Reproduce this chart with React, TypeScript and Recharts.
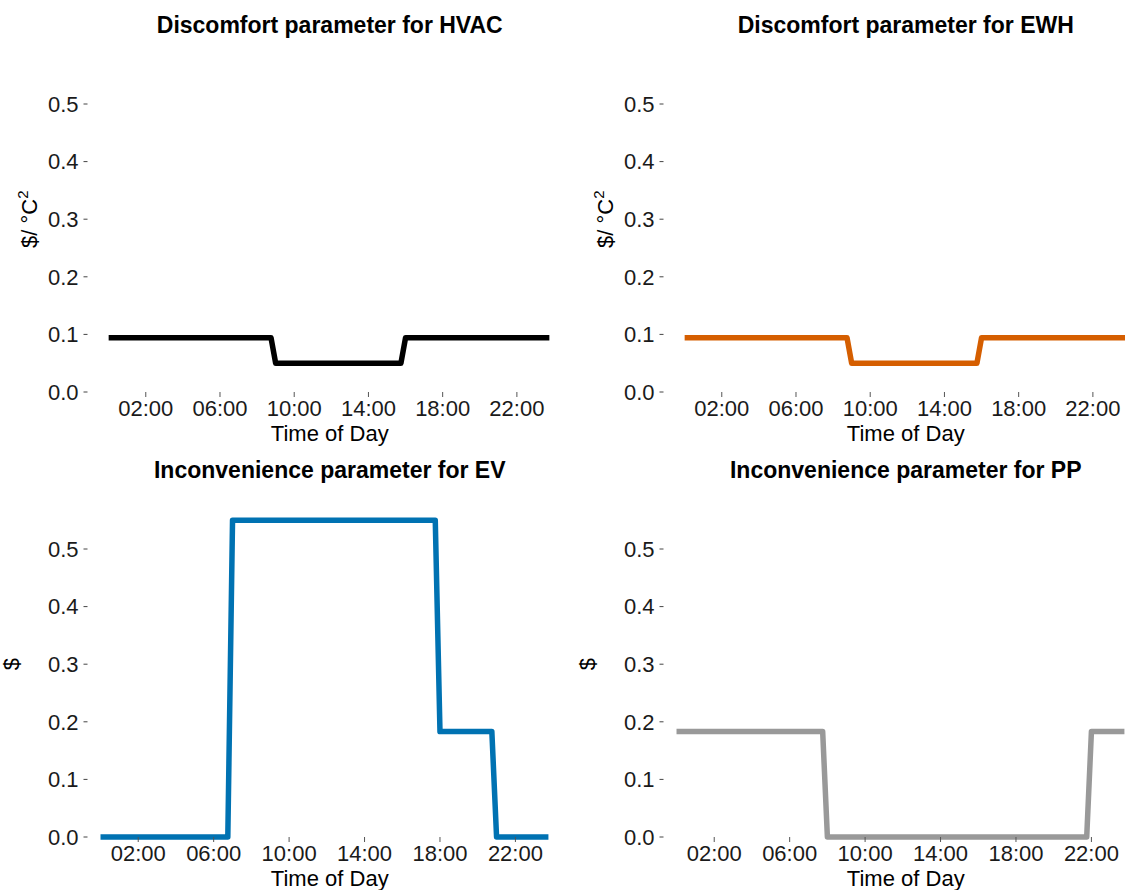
import { LineChart, Line, XAxis, YAxis, Label } from "recharts"

// hour-of-day breakpoints and parameter values for each load type
const hourTicks = [2, 6, 10, 14, 18, 22]
const valueTicks = [0, 0.1, 0.2, 0.3, 0.4, 0.5]

const hvacHours = [0, 8.75, 9, 15.75, 16, 23.75]
const hvacValues = [0.094, 0.094, 0.05, 0.05, 0.094, 0.094]

const ewhHours = [0, 8.75, 9, 15.75, 16, 23.75]
const ewhValues = [0.094, 0.094, 0.05, 0.05, 0.094, 0.094]

const evHours = [0, 6.75, 7, 17.75, 18, 20.75, 21, 23.75]
const evValues = [0, 0, 0.55, 0.55, 0.183, 0.183, 0, 0]

const ppHours = [0, 7.75, 8, 21.75, 22, 23.75]
const ppValues = [0.183, 0.183, 0, 0, 0.183, 0.183]

const FONT = '"Liberation Sans", Arial, Helvetica, sans-serif'
const PANEL_W = 576
const PANEL_H = 445
// extra room below each chart so descenders of the axis title are not clipped
const SPILL = 8
const MARGIN = { top: 46.4, right: 4, bottom: 0, left: 0 }
const Y_AXIS_W = 87.5
const X_AXIS_H = 53 + SPILL

const toRows = (hours: number[], values: number[]) =>
  hours.map((h, i) => ({ h, v: values[i] }))

const fmtHour = (h: number) => `${String(h).padStart(2, "0")}:00`

const tempTitle = (props: any) => {
  const vb = props.viewBox ?? {}
  const cy = (vb.y ?? MARGIN.top) + (vb.height ?? 345.6) / 2
  return (
    <text
      x={37}
      y={cy}
      transform={`rotate(-90 37 ${cy})`}
      textAnchor="middle"
      fontSize={22}
      fontFamily={FONT}
      fill="#000"
    >
      <tspan>{"$/ \u00b0C"}</tspan>
      <tspan dy={-9} fontSize={15}>2</tspan>
    </text>
  )
}

const costTitle = (props: any) => {
  const vb = props.viewBox ?? {}
  const cy = (vb.y ?? MARGIN.top) + (vb.height ?? 345.6) / 2
  return (
    <text
      x={19}
      y={cy}
      transform={`rotate(-90 19 ${cy})`}
      textAnchor="middle"
      fontSize={22}
      fontFamily={FONT}
      fill="#000"
    >
      $
    </text>
  )
}

interface PanelProps {
  title: string
  hours: number[]
  values: number[]
  color: string
  unitTitle: (props: any) => any
  xDomain: [number, number]
  left: number
  top: number
}

function Panel({ title, hours, values, color, unitTitle, xDomain, left, top }: PanelProps) {
  const data = toRows(hours, values)
  return (
    <div style={{ position: "absolute", left, top, width: PANEL_W, height: PANEL_H + SPILL }}>
      <LineChart width={PANEL_W} height={PANEL_H + SPILL} data={data} margin={MARGIN}>
        <XAxis
          type="number"
          dataKey="h"
          domain={xDomain}
          ticks={hourTicks}
          interval={0}
          tickFormatter={fmtHour}
          axisLine={false}
          tickLine={{ stroke: "#555", strokeWidth: 1 }}
          tickSize={5}
          tickMargin={3}
          height={X_AXIS_H}
          tick={{ fill: "#1a1a1a", fontSize: 22, fontFamily: FONT }}
        >
          <Label
            value="Time of Day"
            position="insideBottom"
            offset={4 + SPILL}
            fill="#000"
            fontSize={22}
            fontFamily={FONT}
          />
        </XAxis>
        <YAxis
          type="number"
          domain={[0, 0.6]}
          ticks={valueTicks}
          interval={0}
          tickFormatter={(v: number) => v.toFixed(1)}
          axisLine={false}
          tickLine={{ stroke: "#444", strokeWidth: 1 }}
          tickSize={4}
          tickMargin={5}
          width={Y_AXIS_W}
          tick={{ fill: "#1a1a1a", fontSize: 22, fontFamily: FONT }}
          label={{ content: unitTitle }}
        />
        <Line
          type="linear"
          dataKey="v"
          stroke={color}
          strokeWidth={5.5}
          strokeLinejoin="round"
          strokeLinecap="butt"
          dot={false}
          activeDot={false}
          isAnimationActive={false}
        />
      </LineChart>
      <div
        style={{
          position: "absolute",
          left: Y_AXIS_W,
          width: PANEL_W - Y_AXIS_W - MARGIN.right,
          top: 13.5,
          textAlign: "center",
          fontFamily: FONT,
          fontWeight: "bold",
          fontSize: 23,
          lineHeight: "23px",
          whiteSpace: "nowrap",
          color: "#000",
          pointerEvents: "none",
        }}
      >
        {title}
      </div>
    </div>
  )
}

export default function App() {
  const topDomain: [number, number] = [-1.14, 24.97]
  const bottomDomain: [number, number] = [-0.69, 25.0]
  return (
    <div
      style={{
        position: "absolute",
        left: 0,
        top: 0,
        width: 1125,
        height: 890,
        overflow: "hidden",
        background: "#fff",
      }}
    >
      <Panel
        title="Discomfort parameter for HVAC"
        hours={hvacHours}
        values={hvacValues}
        color="#000000"
        unitTitle={tempTitle}
        xDomain={topDomain}
        left={0}
        top={0}
      />
      <Panel
        title="Discomfort parameter for EWH"
        hours={ewhHours}
        values={ewhValues}
        color="#D55E00"
        unitTitle={tempTitle}
        xDomain={topDomain}
        left={PANEL_W}
        top={0}
      />
      <Panel
        title="Inconvenience parameter for EV"
        hours={evHours}
        values={evValues}
        color="#0072B2"
        unitTitle={costTitle}
        xDomain={bottomDomain}
        left={0}
        top={PANEL_H}
      />
      <Panel
        title="Inconvenience parameter for PP"
        hours={ppHours}
        values={ppValues}
        color="#999999"
        unitTitle={costTitle}
        xDomain={bottomDomain}
        left={PANEL_W}
        top={PANEL_H}
      />
    </div>
  )
}
